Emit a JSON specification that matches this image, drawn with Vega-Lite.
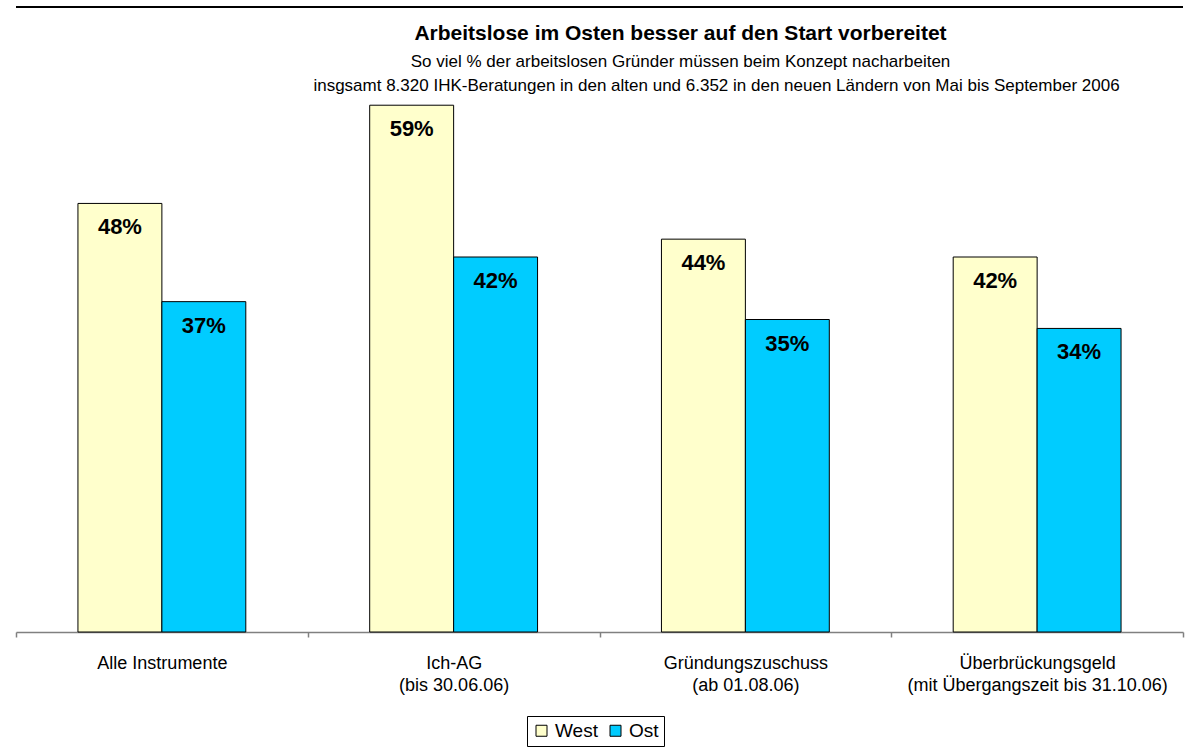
{
  "$schema": "https://vega.github.io/schema/vega-lite/v6.json",
  "width": 1167,
  "height": 625,
  "autosize": {"type": "none"},
  "padding": {"left": 16, "top": 7, "right": 15, "bottom": 115},
  "background": "white",
  "config": {"view": {"stroke": null}, "font": "Liberation Sans"},
  "title": {
    "text": "Arbeitslose im Osten besser auf den Start vorbereitet",
    "subtitle": ["So viel % der arbeitslosen Gründer müssen beim Konzept nacharbeiten", "\u2800\u2800\u2800\u2800\u2800\u2800insgsamt 8.320 IHK-Beratungen in den alten und 6.352 in den neuen Ländern von Mai bis September 2006"],
    "anchor": "middle",
    "frame": "group",
    "orient": "top",
    "offset": -88,
    "dx": 81,
    "fontSize": 21,
    "fontWeight": "bold",
    "color": "black",
    "subtitleFontSize": 17,
    "subtitleColor": "black",
    "subtitleLineHeight": 24,
    "subtitlePadding": 10
  },
  "layer": [
    {
      "data": {"values": [{}]},
      "mark": {"type": "rule", "color": "black", "strokeWidth": 2},
      "encoding": {"y": {"datum": 0.7, "type": "quantitative", "scale": {"domain": [0, 0.7]}, "axis": null}}
    },
    {
      "data": {"name": "bars", "values": [
        {"Kategorie": "Alle Instrumente", "Region": "West", "Anteil": 0.48},
        {"Kategorie": "Alle Instrumente", "Region": "Ost", "Anteil": 0.37},
        {"Kategorie": "Ich-AG|(bis 30.06.06)", "Region": "West", "Anteil": 0.59},
        {"Kategorie": "Ich-AG|(bis 30.06.06)", "Region": "Ost", "Anteil": 0.42},
        {"Kategorie": "Gründungszuschuss|(ab 01.08.06)", "Region": "West", "Anteil": 0.44},
        {"Kategorie": "Gründungszuschuss|(ab 01.08.06)", "Region": "Ost", "Anteil": 0.35},
        {"Kategorie": "Überbrückungsgeld|(mit Übergangszeit bis 31.10.06)", "Region": "West", "Anteil": 0.42},
        {"Kategorie": "Überbrückungsgeld|(mit Übergangszeit bis 31.10.06)", "Region": "Ost", "Anteil": 0.34}
      ]},
      "encoding": {
        "x": {
          "field": "Kategorie", "type": "nominal",
          "sort": ["Alle Instrumente", "Ich-AG|(bis 30.06.06)", "Gründungszuschuss|(ab 01.08.06)", "Überbrückungsgeld|(mit Übergangszeit bis 31.10.06)"],
          "scale": {"paddingInner": 0, "paddingOuter": 0},
          "axis": {
            "title": null, "labelAngle": 0,
            "labelExpr": "split(datum.label, '|')",
            "labelFontSize": 18, "labelColor": "black", "labelLineHeight": 22,
            "labelPadding": 31, "labelBaseline": "alphabetic", "labelLimit": 0,
            "domainColor": "#808080", "domainWidth": 1.5,
            "tickColor": "#808080", "tickSize": 5, "tickWidth": 1.5, "tickBand": "extent"
          }
        },
        "xOffset": {"field": "Region", "type": "nominal", "sort": ["West", "Ost"], "scale": {"paddingInner": 0, "paddingOuter": 0.738}},
        "y": {"field": "Anteil", "type": "quantitative", "scale": {"domain": [0, 0.7]}, "axis": null}
      },
      "layer": [
        {
          "mark": {"type": "bar", "stroke": "black", "strokeWidth": 1},
          "encoding": {
            "color": {
              "field": "Region", "type": "nominal",
              "scale": {"domain": ["West", "Ost"], "range": ["#FFFFCC", "#00CCFF"]},
              "legend": {
                "orient": "none", "legendX": 511, "legendY": 709, "direction": "horizontal",
                "title": null, "symbolType": "square", "symbolStrokeColor": "black", "symbolStrokeWidth": 1,
                "symbolSize": 121, "labelFontSize": 19, "labelColor": "black", "labelOffset": 4,
                "strokeColor": "black", "fillColor": "white", "padding": 5, "columnPadding": 8
              }
            }
          }
        },
        {
          "mark": {"type": "text", "fontSize": 22, "fontWeight": "bold", "color": "black", "baseline": "alphabetic", "dy": 31},
          "encoding": {"text": {"field": "Anteil", "type": "quantitative", "format": ".0%"}}
        }
      ]
    }
  ]
}
